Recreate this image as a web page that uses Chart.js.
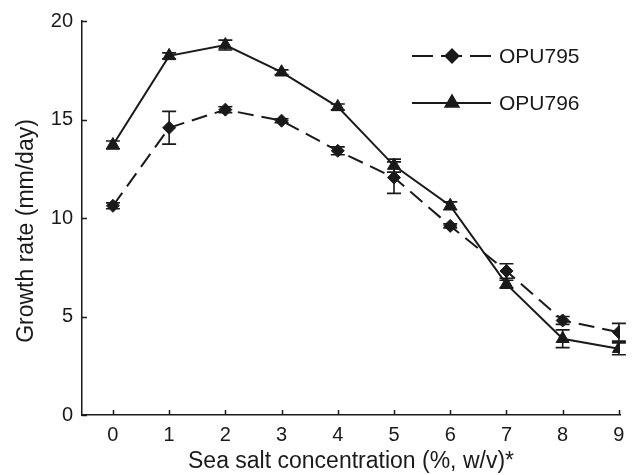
<!DOCTYPE html>
<html>
<head>
<meta charset="utf-8">
<script src="https://cdn.jsdelivr.net/npm/chart.js@4.4.1/dist/chart.umd.min.js"></script>
<style>
  html, body { margin: 0; padding: 0; background: #fff; }
  #wrap { width: 633px; height: 475px; }
</style>
</head>
<body>
<div id="wrap"><canvas id="growthChart" width="633" height="475"></canvas></div>
<script>
const seaSalt = [0, 1, 2, 3, 4, 5, 6, 7, 8, 9];
const opu795 = [10.62, 14.58, 15.5, 14.94, 13.41, 12.05, 9.6, 7.31, 4.8, 4.2];
const err795 = [0.15, 0.83, 0.15, 0.1, 0.2, 0.8, 0.1, 0.37, 0.2, 0.45];
const opu796 = [13.71, 18.23, 18.78, 17.4, 15.64, 12.66, 10.62, 6.64, 3.87, 3.36];
const err796 = [0.2, 0.15, 0.25, 0.12, 0.15, 0.33, 0.2, 0.2, 0.45, 0.3];
const xTicks = [0, 1, 2, 3, 4, 5, 6, 7, 8, 9];
const yTicks = [0, 5, 10, 15, 20];
const seriesNames = ["OPU795", "OPU796"];

const ink = "#1a1a1a";
const fontFamily = "'Liberation Sans', Arial, Helvetica, sans-serif";

const toPoints = (ys) => seaSalt.map((x, i) => ({ x: x, y: ys[i] }));

// error bars, drawn with the chart's own scales
const errorBars = {
    id: "errorBars",
    afterDatasetsDraw(chart) {
        const ctx = chart.ctx;
        const xs = chart.scales.x, ys = chart.scales.y;
        const errs = [err795, err796];
        ctx.save();
        ctx.strokeStyle = ink;
        ctx.lineWidth = 1.6;
        chart.data.datasets.forEach((ds, d) => {
            ds.data.forEach((p, i) => {
                const px = xs.getPixelForValue(p.x);
                const top = ys.getPixelForValue(p.y + errs[d][i]);
                const bot = ys.getPixelForValue(p.y - errs[d][i]);
                ctx.beginPath();
                ctx.moveTo(px, top); ctx.lineTo(px, bot);
                ctx.moveTo(px - 7, top); ctx.lineTo(px + 7, top);
                ctx.moveTo(px - 7, bot); ctx.lineTo(px + 7, bot);
                ctx.stroke();
            });
        });
        ctx.restore();
    }
};

// inward tick marks, y title and legend
const decorations = {
    id: "decorations",
    afterDraw(chart) {
        const ctx = chart.ctx;
        const xs = chart.scales.x, ys = chart.scales.y;
        const area = chart.chartArea;
        ctx.save();
        ctx.strokeStyle = ink;
        ctx.lineWidth = 1.5;
        ctx.beginPath();
        yTicks.forEach(v => {
            const py = Math.round(ys.getPixelForValue(v)) + 0.5;
            ctx.moveTo(area.left, py); ctx.lineTo(area.left + 5, py);
        });
        xTicks.forEach(v => {
            const px = Math.round(xs.getPixelForValue(v)) + 0.5;
            ctx.moveTo(px, area.bottom); ctx.lineTo(px, area.bottom - 5);
        });
        ctx.stroke();

        // y axis title
        ctx.fillStyle = ink;
        ctx.font = "23px " + fontFamily;
        ctx.textAlign = "center";
        ctx.textBaseline = "middle";
        ctx.translate(27, 231);
        ctx.rotate(-Math.PI / 2);
        ctx.fillText("Growth rate (mm/day)", 0, 0);
        ctx.restore();

        // legend
        ctx.save();
        const rowsY = [56, 103];
        chart.data.datasets.forEach((ds, d) => {
            const y = rowsY[d];
            ctx.strokeStyle = ink;
            ctx.lineWidth = 2;
            ctx.setLineDash(d === 0 ? [21, 8] : []);
            ctx.beginPath();
            ctx.moveTo(412, y); ctx.lineTo(491, y);
            ctx.stroke();
            ctx.setLineDash([]);
            ctx.fillStyle = ink;
            Chart.helpers.drawPoint(ctx, {
                pointStyle: ds.pointStyle,
                radius: ds.pointRadius,
                rotation: 0,
                borderWidth: 1
            }, 452, y);
            ctx.font = "21px " + fontFamily;
            ctx.textAlign = "left";
            ctx.textBaseline = "middle";
            ctx.fillText(ds.label, 499, y + 1);
        });
        ctx.restore();
    }
};

const config = {
    type: "line",
    data: {
        datasets: [
            {
                label: seriesNames[0],
                data: toPoints(opu795),
                borderColor: ink,
                backgroundColor: ink,
                borderWidth: 2,
                borderDash: [16, 8],
                pointStyle: "rectRot",
                pointRadius: 6.5,
                pointBorderWidth: 1,
                tension: 0
            },
            {
                label: seriesNames[1],
                data: toPoints(opu796),
                borderColor: ink,
                backgroundColor: ink,
                borderWidth: 2,
                pointStyle: "triangle",
                pointRadius: 7.5,
                pointBorderWidth: 1,
                tension: 0
            }
        ]
    },
    options: {
        responsive: false,
        animation: false,
        events: [],
        layout: { padding: { top: 16, right: 13, left: 0, bottom: 0 } },
        plugins: { legend: { display: false }, tooltip: { enabled: false } },
        scales: {
            x: {
                type: "linear",
                min: -0.55,
                max: 9.02,
                afterBuildTicks: (s) => { s.ticks = xTicks.map(v => ({ value: v })); },
                afterFit: (s) => { s.height = 60; },
                grid: { display: false, drawTicks: false },
                border: { display: true, color: ink, width: 1.5 },
                ticks: { color: ink, padding: 8, font: { size: 20, family: fontFamily } },
                title: {
                    display: true,
                    text: "Sea salt concentration (%, w/v)*",
                    color: ink,
                    padding: 0,
                    font: { size: 23, family: fontFamily }
                }
            },
            y: {
                type: "linear",
                min: 0,
                max: 20,
                afterBuildTicks: (s) => { s.ticks = yTicks.map(v => ({ value: v })); },
                afterFit: (s) => { s.width = 82; },
                grid: { display: false, drawTicks: false },
                border: { display: true, color: ink, width: 1.5 },
                ticks: { color: ink, padding: 9, font: { size: 20, family: fontFamily } }
            }
        }
    },
    plugins: [errorBars, decorations]
};

const growthChart = new Chart(document.getElementById("growthChart"), config);
</script>
</body>
</html>
